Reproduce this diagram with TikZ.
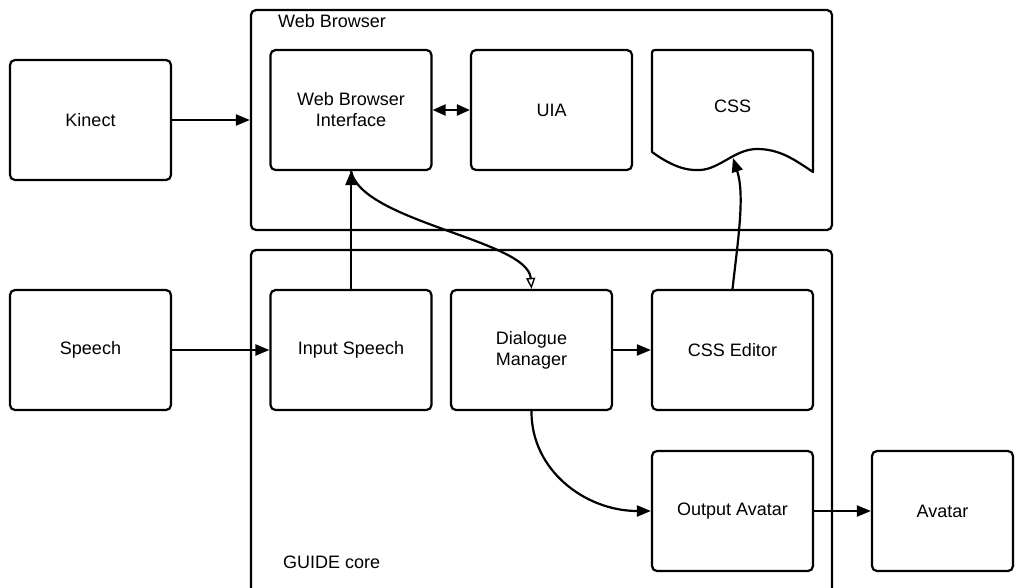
\documentclass[tikz,border=0pt]{standalone}
\usepackage{fontspec}
\setmainfont{Liberation Sans}
\usetikzlibrary{arrows.meta}
\begin{document}
\begin{tikzpicture}[x=1pt,y=-1pt,
  txt/.style={font=\fontsize{18}{21}\selectfont},
  box/.style={draw,line width=2.2pt,rounded corners=5pt,minimum width=161pt,
    minimum height=120pt,align=center,inner sep=0pt,txt},
  frame/.style={draw,line width=2.2pt,rounded corners=5pt,inner sep=0pt},
  conn/.style={line width=2.2pt,-{Triangle[length=14pt,width=11pt]}},
  lbl/.style={anchor=base west,inner sep=0pt,txt}]
\clip (0,0) rectangle (1022,587);

% container frames
\node[frame,minimum width=581pt,minimum height=220pt] (wb) at (541.5,120) {};
\node[frame,minimum width=581pt,minimum height=360pt] (gc) at (541.5,430) {};
\node[lbl] (wbt) at (278,27) {Web Browser};
\node[lbl] (gct) at (283,568) {GUIDE core};

% components
\node[box] (kin) at (90.5,120) {Kinect};
\node[box] (wbi) at (351,110) {Web Browser\\Interface};
\node[box] (uia) at (551.5,110) {UIA};
\node[box] (sp)  at (90.5,350) {Speech};
\node[box] (is)  at (351,350) {Input Speech};
\node[box] (dm)  at (531.5,350) {Dialogue\\Manager};
\node[box] (ce)  at (732.5,350) {CSS Editor};
\node[box] (oa)  at (732.5,511) {Output Avatar};
\node[box,minimum width=141pt] (av) at (942.5,511) {Avatar};

% CSS document with wavy lower edge
\node[inner sep=0pt,minimum width=161pt,minimum height=120pt] (css) at (732.5,110) {};
\node[txt,inner sep=0pt] (csst) at (732.5,106) {CSS};
\draw[line width=2.2pt,line join=round]
  (652,152) -- (652,56) .. controls (652,50) .. (658,50)
  -- (807,50) .. controls (813,50) .. (813,56) -- (813,172)
  .. controls (795,160) and (780,149) .. (757,149)
  .. controls (735,149) and (720,169) .. (700,170)
  .. controls (685,171) and (670,165) .. (652,152) -- cycle;
\coordinate (cssin) at (733,158);

% connectors
\draw[conn] (kin.east) -- (wb.west);
\draw[line width=2.2pt,{Triangle[length=13pt,width=11pt]}-{Triangle[length=13pt,width=11pt]}]
  (wbi.east) -- (uia.west);
\draw[conn] (is.north) -- (wbi.south);
\draw[line width=2.2pt,-{Triangle[open,length=11pt,width=9pt,line width=1.4pt]}]
  (wbi.south) .. controls (362,222) and (528,240) .. (dm.north);
\draw[conn] (sp.east) -- (is.west);
\draw[conn] (dm.east) -- (ce.west);
\draw[conn] (ce.north) .. controls (738,240) and (745,195) .. (cssin);
\draw[conn] (dm.south) .. controls (531,470) and (585,511) .. (oa.west);
\draw[conn] (oa.east) -- (av.west);
\end{tikzpicture}
\end{document}
